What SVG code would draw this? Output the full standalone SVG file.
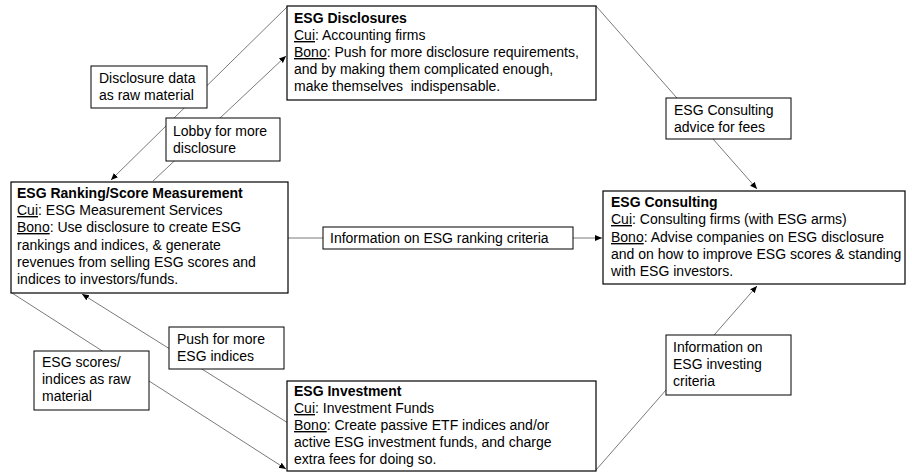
<svg xmlns="http://www.w3.org/2000/svg" width="912" height="472" viewBox="0 0 912 472">
<style>
text{font-family:"Liberation Sans",Arial,sans-serif;font-size:14px;fill:#000}
.t{font-weight:bold}
.u{text-decoration:underline}
.node{fill:#fff;stroke:#000;stroke-width:1.2}
.lbl{fill:#fff;stroke:#000;stroke-width:1}
.c{stroke:#7a7a7a;stroke-width:1;fill:none;marker-end:url(#ah)}
.n{stroke:#7a7a7a;stroke-width:1;fill:none}
</style>
<defs>
<marker id="ah" markerWidth="8" markerHeight="8" refX="7" refY="4" orient="auto" markerUnits="userSpaceOnUse">
<path d="M0,1 L7,4 L0,7 Z" fill="#000"/>
</marker>
</defs>
<rect width="912" height="472" fill="#fff"/>
<g id="connectors">
<line class="c" x1="288" y1="6" x2="111" y2="180"/>
<line class="c" x1="153" y1="181" x2="286" y2="56"/>
<line class="c" x1="596" y1="6" x2="757" y2="189"/>
<line class="c" x1="288" y1="238" x2="602" y2="238"/>
<line class="c" x1="288" y1="423" x2="82" y2="294"/>
<line class="c" x1="12" y1="293" x2="286" y2="469"/>
<line class="c" x1="596" y1="470" x2="757" y2="286"/>
</g>
<g id="label-disclosure-data">
<rect class="lbl" x="91" y="66" width="116" height="42"/>
<text x="99" y="83">Disclosure data</text>
<text x="99" y="100">as raw material</text>
</g>
<g id="label-lobby">
<rect class="lbl" x="166" y="118" width="114" height="43"/>
<text x="173" y="136">Lobby for more</text>
<text x="173" y="153">disclosure</text>
</g>
<g id="label-consulting-advice">
<rect class="lbl" x="666" y="98" width="125" height="41"/>
<text x="674" y="115">ESG Consulting</text>
<text x="674" y="132">advice for fees</text>
</g>
<g id="label-ranking-criteria">
<rect class="lbl" x="323" y="227" width="250" height="22"/>
<text x="330" y="243">Information on ESG ranking criteria</text>
</g>
<g id="label-push-indices">
<rect class="lbl" x="169" y="327" width="115" height="42"/>
<text x="177" y="344">Push for more</text>
<text x="177" y="361">ESG indices</text>
</g>
<g id="label-scores-raw">
<rect class="lbl" x="34" y="351" width="115" height="59"/>
<text x="42" y="367">ESG scores/</text>
<text x="42" y="384">indices as raw</text>
<text x="42" y="401">material</text>
</g>
<g id="label-investing-criteria">
<rect class="lbl" x="666" y="335" width="125" height="60"/>
<text x="673" y="352">Information on</text>
<text x="673" y="369">ESG investing</text>
<text x="673" y="386">criteria</text>
</g>
<g id="node-disclosures">
<rect class="node" x="287" y="6" width="309" height="94"/>
<text class="t" x="294" y="23">ESG Disclosures</text>
<text x="294" y="40"><tspan class="u">Cui</tspan>: Accounting firms</text>
<text x="294" y="57"><tspan class="u">Bono</tspan>: Push for more disclosure requirements,</text>
<text x="294" y="74">and by making them complicated enough,</text>
<text x="294" y="91" xml:space="preserve">make themselves  indispensable.</text>
</g>
<g id="node-ranking">
<rect class="node" x="11" y="182" width="277" height="111"/>
<text class="t" x="17" y="198">ESG Ranking/Score Measurement</text>
<text x="17" y="215"><tspan class="u">Cui</tspan>: ESG Measurement Services</text>
<text x="17" y="232"><tspan class="u">Bono</tspan>: Use disclosure to create ESG</text>
<text x="17" y="250">rankings and indices, &amp; generate</text>
<text x="17" y="267">revenues from selling ESG scores and</text>
<text x="17" y="284">indices to investors/funds.</text>
</g>
<g id="node-consulting">
<rect class="node" x="603" y="191" width="302" height="93"/>
<text class="t" x="611" y="207">ESG Consulting</text>
<text x="611" y="224"><tspan class="u">Cui</tspan>: Consulting firms (with ESG arms)</text>
<text x="611" y="242"><tspan class="u">Bono</tspan>: Advise companies on ESG disclosure</text>
<text x="611" y="259">and on how to improve ESG scores &amp; standing</text>
<text x="611" y="276">with ESG investors.</text>
</g>
<g id="node-investment">
<rect class="node" x="287" y="381" width="309" height="90"/>
<text class="t" x="294" y="396">ESG Investment</text>
<text x="294" y="413"><tspan class="u">Cui</tspan>: Investment Funds</text>
<text x="294" y="430"><tspan class="u">Bono</tspan>: Create passive ETF indices and/or</text>
<text x="294" y="447">active ESG investment funds, and charge</text>
<text x="294" y="464">extra fees for doing so.</text>
</g>
</svg>
